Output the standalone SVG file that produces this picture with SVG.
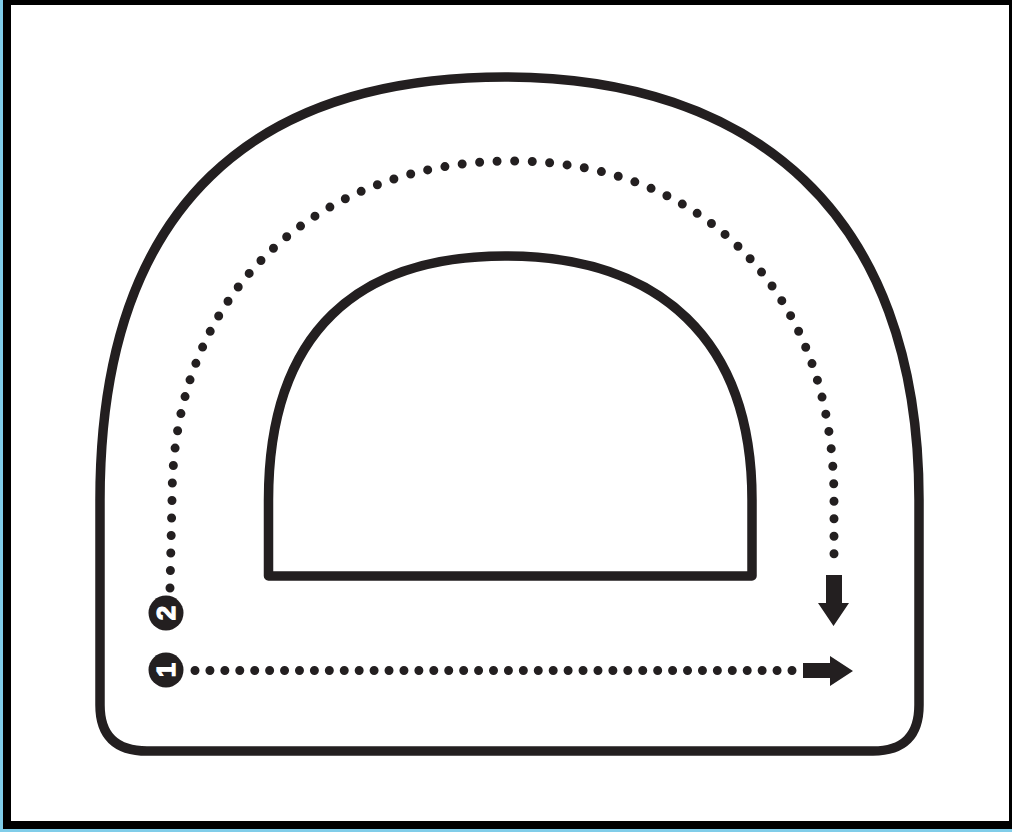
<svg xmlns="http://www.w3.org/2000/svg" width="1012" height="832" viewBox="0 0 1012 832">
  <defs>
    <style>
      .wall { fill: none; stroke: #231f20; stroke-width: 9.5; stroke-linejoin: round; }
      .dots { fill: none; stroke: #231f20; stroke-width: 9; stroke-linecap: round; }
      .arrow { fill: #231f20; }
      .badge { fill: #231f20; }
      .num { fill: #ffffff; stroke: #ffffff; stroke-width: 1.2; font-family: "Liberation Sans", Arial, sans-serif; font-weight: bold; font-size: 26px; text-anchor: middle; dominant-baseline: central; }
    </style>
  </defs>
  <g id="frame">
    <rect x="0" y="0" width="1012" height="832" fill="#80cde9"/>
    <rect x="3" y="0" width="1009" height="829" fill="#000000"/>
    <rect x="11" y="5" width="998" height="816" fill="#ffffff"/>
  </g>
  <g id="outer-track">
    <path class="wall" d="M100,705 L100,500 C100,200 260,77 505,77 C750,77 919,210 919,500 L919,705 Q919,751 873,751 L147,751 Q100,751 100,705 Z"/>
  </g>
  <g id="inner-island">
    <path class="wall" d="M268.5,576 L268.5,500 C268.5,330 360,256 505,256 C660,256 752,340 752,500 L752,576 Z"/>
  </g>
  <g id="connectors">
    <path id="route-2" class="dots" stroke-dasharray="0 17.5" d="M170,588 L172,500 C172,280 330,161 512,161 C700,161 834,290 834,500 L834,565"/>
    <polygon class="arrow" points="826,575 842,575 842,603 849,603 833.5,626 818,603 826,603"/>
    <path id="route-1" class="dots" stroke-dasharray="0 14.925" d="M195,670.5 L792,670.5"/>
    <polygon class="arrow" points="803,663 830,663 830,656 853,671 830,686 830,678 803,678"/>
  </g>
  <g id="badge-2">
    <circle class="badge" cx="166" cy="613" r="17.5"/>
    <text class="num" x="166" y="613" transform="rotate(-90 166 613)">2</text>
  </g>
  <g id="badge-1">
    <circle class="badge" cx="166" cy="670" r="17.5"/>
    <text class="num" x="166" y="670" transform="rotate(-90 166 670)">1</text>
  </g>
</svg>
